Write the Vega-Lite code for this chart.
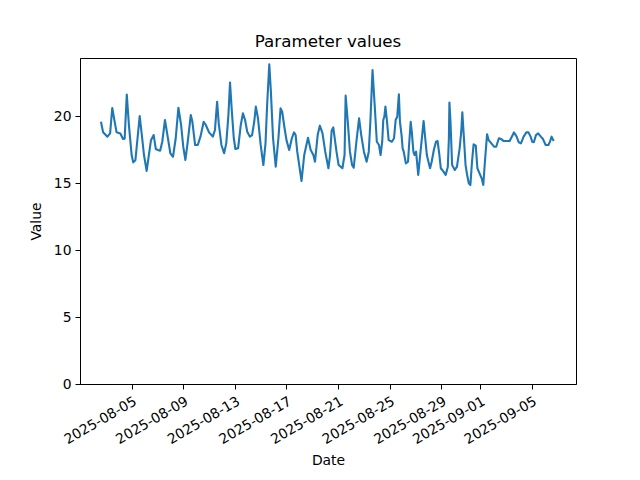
{
  "$schema": "https://vega.github.io/schema/vega-lite/v6.json",
  "autosize": {"type": "none"},
  "padding": {"left": 80, "top": 58, "right": 64, "bottom": 96},
  "width": 496,
  "height": 326,
  "background": "white",
  "title": {"text": "Parameter values", "font": "DejaVu Sans", "fontSize": 16.7, "fontWeight": "normal", "color": "black", "offset": 7},
  "config": {
    "view": {"stroke": "black", "strokeWidth": 1},
    "axis": {"grid": false, "domainColor": "black", "tickColor": "black", "tickSize": 5, "labelFont": "DejaVu Sans", "labelFontSize": 13.9, "labelColor": "black", "titleFont": "DejaVu Sans", "titleFontSize": 13.9, "titleFontWeight": "normal", "titleColor": "black", "labelPadding": 4}
  },
  "data": {"values": [
    {"t":"2025-08-02T15:00","v":19.57},{"t":"2025-08-02T19:00","v":18.78},{"t":"2025-08-03T03:00","v":18.46},{"t":"2025-08-03T08:00","v":18.7},{"t":"2025-08-03T12:00","v":20.6},{"t":"2025-08-03T17:00","v":19.45},{"t":"2025-08-03T20:00","v":18.78},
    {"t":"2025-08-04T03:00","v":18.7},{"t":"2025-08-04T08:00","v":18.28},{"t":"2025-08-04T11:00","v":18.3},{"t":"2025-08-04T15:00","v":21.6},{"t":"2025-08-04T19:00","v":19.3},
    {"t":"2025-08-05T00:00","v":17.09},{"t":"2025-08-05T03:00","v":16.54},{"t":"2025-08-05T07:00","v":16.7},{"t":"2025-08-05T11:00","v":18.34},{"t":"2025-08-05T15:00","v":20.0},{"t":"2025-08-05T19:00","v":18.58},{"t":"2025-08-05T23:00","v":17.09},
    {"t":"2025-08-06T04:00","v":15.9},{"t":"2025-08-06T09:00","v":17.34},{"t":"2025-08-06T12:00","v":18.2},{"t":"2025-08-06T17:00","v":18.58},{"t":"2025-08-06T21:00","v":17.54},
    {"t":"2025-08-07T01:00","v":17.46},{"t":"2025-08-07T05:00","v":17.41},{"t":"2025-08-07T09:00","v":18.08},{"t":"2025-08-07T14:00","v":19.7},{"t":"2025-08-07T19:00","v":18.46},
    {"t":"2025-08-08T00:00","v":17.22},{"t":"2025-08-08T05:00","v":16.96},{"t":"2025-08-08T10:00","v":18.34},{"t":"2025-08-08T15:00","v":20.62},{"t":"2025-08-08T20:00","v":19.33},
    {"t":"2025-08-09T00:00","v":17.71},{"t":"2025-08-09T04:00","v":16.72},{"t":"2025-08-09T08:00","v":17.96},{"t":"2025-08-09T14:00","v":20.07},{"t":"2025-08-09T17:00","v":19.57},{"t":"2025-08-09T22:00","v":17.84},
    {"t":"2025-08-10T03:00","v":17.84},{"t":"2025-08-10T08:00","v":18.46},{"t":"2025-08-10T14:00","v":19.57},{"t":"2025-08-10T18:00","v":19.33},
    {"t":"2025-08-11T00:00","v":18.78},{"t":"2025-08-11T07:00","v":18.46},{"t":"2025-08-11T11:00","v":18.96},{"t":"2025-08-11T15:00","v":21.07},{"t":"2025-08-11T18:00","v":19.45},{"t":"2025-08-11T23:00","v":17.84},
    {"t":"2025-08-12T04:00","v":17.22},{"t":"2025-08-12T08:00","v":17.96},{"t":"2025-08-12T12:00","v":20.07},{"t":"2025-08-12T15:00","v":22.5},{"t":"2025-08-12T18:00","v":20.57},{"t":"2025-08-12T22:00","v":18.34},
    {"t":"2025-08-13T01:00","v":17.54},{"t":"2025-08-13T06:00","v":17.59},{"t":"2025-08-13T11:00","v":19.33},{"t":"2025-08-13T15:00","v":20.2},{"t":"2025-08-13T19:00","v":19.7},{"t":"2025-08-13T23:00","v":18.83},
    {"t":"2025-08-14T04:00","v":18.46},{"t":"2025-08-14T08:00","v":18.58},{"t":"2025-08-14T12:00","v":19.57},{"t":"2025-08-14T15:00","v":20.7},{"t":"2025-08-14T19:00","v":19.83},
    {"t":"2025-08-15T00:00","v":17.84},{"t":"2025-08-15T05:00","v":16.34},{"t":"2025-08-15T09:00","v":17.96},{"t":"2025-08-15T12:00","v":20.82},{"t":"2025-08-15T16:00","v":23.86},{"t":"2025-08-15T19:00","v":21.81},{"t":"2025-08-15T23:00","v":18.34},
    {"t":"2025-08-16T04:00","v":16.22},{"t":"2025-08-16T09:00","v":18.34},{"t":"2025-08-16T13:00","v":20.57},{"t":"2025-08-16T16:00","v":20.32},{"t":"2025-08-16T20:00","v":19.2},
    {"t":"2025-08-17T00:00","v":18.2},{"t":"2025-08-17T05:00","v":17.46},{"t":"2025-08-17T10:00","v":18.34},{"t":"2025-08-17T14:00","v":18.78},{"t":"2025-08-17T17:00","v":18.58},{"t":"2025-08-17T20:00","v":17.34},
    {"t":"2025-08-18T01:00","v":15.97},{"t":"2025-08-18T04:00","v":15.15},{"t":"2025-08-18T09:00","v":17.09},{"t":"2025-08-18T16:00","v":18.38},{"t":"2025-08-18T21:00","v":17.46},
    {"t":"2025-08-19T02:00","v":17.09},{"t":"2025-08-19T05:00","v":16.59},{"t":"2025-08-19T10:00","v":18.58},{"t":"2025-08-19T14:00","v":19.28},{"t":"2025-08-19T19:00","v":18.71},
    {"t":"2025-08-20T00:00","v":17.34},{"t":"2025-08-20T06:00","v":16.1},{"t":"2025-08-20T09:00","v":17.09},{"t":"2025-08-20T12:00","v":18.9},{"t":"2025-08-20T15:00","v":19.15},{"t":"2025-08-20T21:00","v":17.34},
    {"t":"2025-08-21T01:00","v":16.34},{"t":"2025-08-21T08:00","v":16.1},{"t":"2025-08-21T12:00","v":17.09},{"t":"2025-08-21T14:00","v":21.52},{"t":"2025-08-21T18:00","v":19.57},{"t":"2025-08-21T22:00","v":17.34},
    {"t":"2025-08-22T02:00","v":16.34},{"t":"2025-08-22T05:00","v":16.14},{"t":"2025-08-22T10:00","v":18.08},{"t":"2025-08-22T15:00","v":19.83},{"t":"2025-08-22T19:00","v":18.58},
    {"t":"2025-08-23T00:00","v":17.34},{"t":"2025-08-23T05:00","v":16.59},{"t":"2025-08-23T09:00","v":17.34},{"t":"2025-08-23T12:00","v":19.57},{"t":"2025-08-23T16:00","v":23.43},{"t":"2025-08-23T20:00","v":20.82},
    {"t":"2025-08-24T00:00","v":18.08},{"t":"2025-08-24T04:00","v":17.84},{"t":"2025-08-24T07:00","v":17.09},{"t":"2025-08-24T10:00","v":18.08},{"t":"2025-08-24T12:00","v":19.7},{"t":"2025-08-24T14:00","v":19.95},{"t":"2025-08-24T16:00","v":20.7},{"t":"2025-08-24T19:00","v":19.57},{"t":"2025-08-24T22:00","v":18.2},
    {"t":"2025-08-25T04:00","v":18.08},{"t":"2025-08-25T08:00","v":18.34},{"t":"2025-08-25T11:00","v":19.7},{"t":"2025-08-25T14:00","v":19.95},{"t":"2025-08-25T17:00","v":21.62},{"t":"2025-08-25T19:00","v":19.57},{"t":"2025-08-25T22:00","v":18.58},
    {"t":"2025-08-26T00:00","v":17.59},{"t":"2025-08-26T02:00","v":17.34},{"t":"2025-08-26T06:00","v":16.47},{"t":"2025-08-26T10:00","v":16.59},{"t":"2025-08-26T12:00","v":17.84},{"t":"2025-08-26T15:00","v":19.57},{"t":"2025-08-26T17:00","v":18.83},{"t":"2025-08-26T20:00","v":17.34},{"t":"2025-08-26T22:00","v":17.09},
    {"t":"2025-08-27T01:00","v":17.34},{"t":"2025-08-27T05:00","v":15.6},{"t":"2025-08-27T08:00","v":16.84},{"t":"2025-08-27T13:00","v":18.83},{"t":"2025-08-27T15:00","v":19.63},{"t":"2025-08-27T18:00","v":18.34},{"t":"2025-08-27T21:00","v":17.09},
    {"t":"2025-08-28T00:00","v":16.59},{"t":"2025-08-28T03:00","v":16.1},{"t":"2025-08-28T06:00","v":16.59},{"t":"2025-08-28T10:00","v":17.46},{"t":"2025-08-28T14:00","v":18.08},{"t":"2025-08-28T17:00","v":18.13},{"t":"2025-08-28T20:00","v":17.22},{"t":"2025-08-28T23:00","v":16.1},
    {"t":"2025-08-29T04:00","v":15.85},{"t":"2025-08-29T08:00","v":15.6},{"t":"2025-08-29T12:00","v":16.2},{"t":"2025-08-29T14:00","v":18.3},{"t":"2025-08-29T15:00","v":21.0},{"t":"2025-08-29T17:00","v":19.57},{"t":"2025-08-29T20:00","v":16.34},
    {"t":"2025-08-30T01:00","v":15.97},{"t":"2025-08-30T05:00","v":16.22},{"t":"2025-08-30T10:00","v":17.59},{"t":"2025-08-30T13:00","v":18.83},{"t":"2025-08-30T15:00","v":20.28},{"t":"2025-08-30T18:00","v":18.34},{"t":"2025-08-30T21:00","v":16.34},
    {"t":"2025-08-31T00:00","v":15.6},{"t":"2025-08-31T03:00","v":14.98},{"t":"2025-08-31T06:00","v":14.85},{"t":"2025-08-31T09:00","v":16.59},{"t":"2025-08-31T12:00","v":17.89},{"t":"2025-08-31T16:00","v":17.79},{"t":"2025-08-31T19:00","v":16.1},{"t":"2025-08-31T23:00","v":15.72},
    {"t":"2025-09-01T03:00","v":15.35},{"t":"2025-09-01T06:00","v":14.85},{"t":"2025-09-01T09:00","v":16.59},{"t":"2025-09-01T13:00","v":18.63},{"t":"2025-09-01T16:00","v":18.2},{"t":"2025-09-01T21:00","v":17.96},
    {"t":"2025-09-02T02:00","v":17.71},{"t":"2025-09-02T06:00","v":17.71},{"t":"2025-09-02T11:00","v":18.34},{"t":"2025-09-02T16:00","v":18.26},{"t":"2025-09-02T20:00","v":18.13},
    {"t":"2025-09-03T02:00","v":18.13},{"t":"2025-09-03T07:00","v":18.13},{"t":"2025-09-03T12:00","v":18.53},{"t":"2025-09-03T15:00","v":18.78},{"t":"2025-09-03T20:00","v":18.46},
    {"t":"2025-09-04T00:00","v":18.04},{"t":"2025-09-04T04:00","v":17.96},{"t":"2025-09-04T09:00","v":18.46},{"t":"2025-09-04T14:00","v":18.78},{"t":"2025-09-04T18:00","v":18.78},{"t":"2025-09-04T22:00","v":18.46},
    {"t":"2025-09-05T01:00","v":18.08},{"t":"2025-09-05T04:00","v":18.04},{"t":"2025-09-05T08:00","v":18.58},{"t":"2025-09-05T12:00","v":18.7},{"t":"2025-09-05T17:00","v":18.46},{"t":"2025-09-05T21:00","v":18.28},
    {"t":"2025-09-06T02:00","v":17.84},{"t":"2025-09-06T07:00","v":17.84},{"t":"2025-09-06T10:00","v":18.08},{"t":"2025-09-06T13:00","v":18.46},{"t":"2025-09-06T16:00","v":18.2},{"t":"2025-09-06T17:00","v":18.13}
  ]},
  "mark": {"type": "line", "color": "#1f77b4", "strokeWidth": 2.1, "strokeJoin": "round", "clip": true},
  "encoding": {
    "x": {
      "field": "t", "type": "temporal", "title": "Date",
      "scale": {"domain": [{"year": 2025, "month": 8, "date": 1}, {"year": 2025, "month": 9, "date": 8, "hours": 10, "minutes": 24}]},
      "axis": {
        "values": [
          {"year": 2025, "month": 8, "date": 5}, {"year": 2025, "month": 8, "date": 9}, {"year": 2025, "month": 8, "date": 13},
          {"year": 2025, "month": 8, "date": 17}, {"year": 2025, "month": 8, "date": 21}, {"year": 2025, "month": 8, "date": 25},
          {"year": 2025, "month": 8, "date": 29}, {"year": 2025, "month": 9, "date": 1}, {"year": 2025, "month": 9, "date": 5}
        ],
        "format": "%Y-%m-%d", "labelAngle": -30, "labelAlign": "right", "labelBaseline": "top", "labelPadding": 5, "titlePadding": 7, "labelFlush": false, "labelOverlap": false
      }
    },
    "y": {
      "field": "v", "type": "quantitative", "title": "Value",
      "scale": {"domain": [0, 24.33], "nice": false, "zero": false},
      "axis": {"values": [0, 5, 10, 15, 20], "titlePadding": 10}
    }
  }
}
